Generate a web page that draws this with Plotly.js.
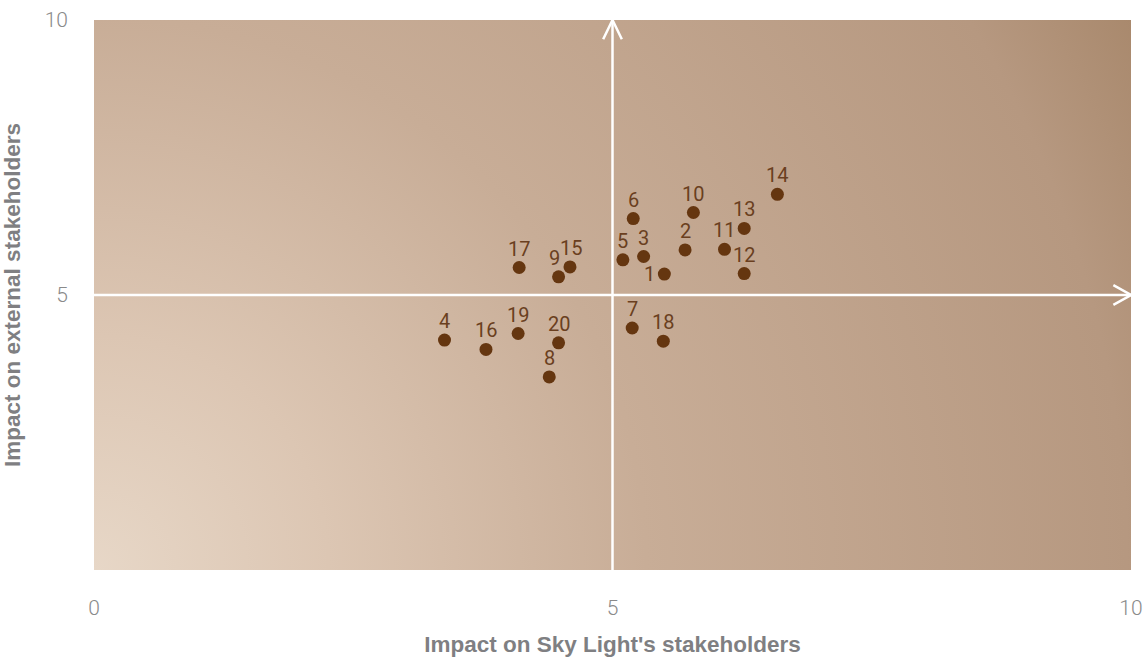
<!DOCTYPE html>
<html>
<head>
<meta charset="utf-8">
<script src="https://cdn.plot.ly/plotly-3.0.1.min.js"></script>
<style>
html,body{margin:0;padding:0;background:#fff;}
#chart{width:1147px;height:657px;}
</style>
</head>
<body>
<div id="chart"></div>
<script>
// Data
const labels = ["1","2","3","4","5","6","7","8","9","10","11","12","13","14","15","16","17","18","19","20"];
const xValues = [5.50,5.70,5.30,3.38,5.10,5.20,5.19,4.39,4.48,5.78,6.08,6.27,6.27,6.59,4.59,3.78,4.10,5.49,4.09,4.48];
const yValues = [5.38,5.82,5.70,4.18,5.64,6.39,4.40,3.51,5.33,6.50,5.83,5.39,6.21,6.83,5.51,4.01,5.50,4.16,4.30,4.13];
const xTicks = [0,5,10];
const yTicks = [5,10];
const xTitle = "Impact on Sky Light's stakeholders";
const yTitle = "Impact on external stakeholders";

// Label pixel offsets (style only): default above the marker
const labelShiftX = {"1": -15, "9": -4, "15": 1, "11": -1};
const labelShiftY = {"1": 0};

// Background gradient (decorative)
const bgSvg = '<svg xmlns="http://www.w3.org/2000/svg" width="1037" height="550" viewBox="0 0 1037 550">' +
  '<defs><radialGradient id="g" gradientUnits="userSpaceOnUse" cx="0" cy="550" r="1174">' +
  '<stop offset="0" stop-color="#e7d7c7"/>' +
  '<stop offset="0.2" stop-color="#dcc6b3"/>' +
  '<stop offset="0.47" stop-color="#c8ad97"/>' +
  '<stop offset="0.88" stop-color="#b69880"/>' +
  '<stop offset="1" stop-color="#a9896d"/>' +
  '</radialGradient></defs><rect width="1037" height="550" fill="url(#g)"/></svg>';
const bgUri = 'data:image/svg+xml;charset=utf-8,' + encodeURIComponent(bgSvg);

const trace = {
  type: 'scatter',
  mode: 'markers',
  x: xValues,
  y: yValues,
  text: labels,
  marker: {size: 13, color: '#653610', line: {width: 0}},
  hoverinfo: 'none',
  cliponaxis: false
};

const labelFont = {family: 'Roboto, "Liberation Sans", sans-serif', size: 20, color: '#6a3f20'};
const labelAnnotations = labels.map((t, i) => ({
  x: xValues[i], y: yValues[i], xref: 'x', yref: 'y',
  text: t, showarrow: false, font: labelFont,
  xanchor: 'center', yanchor: 'middle',
  xshift: (t in labelShiftX) ? labelShiftX[t] : 0,
  yshift: (t in labelShiftY) ? labelShiftY[t] : 19
}));

const white = '#ffffff';
const shapes = [
  {type:'line', xref:'x', yref:'y', x0:0, y0:5, x1:10, y1:5, line:{color:white, width:2.5}},
  {type:'line', xref:'x', yref:'y', x0:5, y0:0, x1:5, y1:10, line:{color:white, width:2.5}},
  // right chevron
  {type:'path', xref:'x', yref:'y', path:'M 9.83,5.18 L 10,5 L 9.83,4.82', line:{color:white, width:2.5}},
  // top chevron
  {type:'path', xref:'x', yref:'y', path:'M 4.91,9.65 L 5,10 L 5.09,9.65', line:{color:white, width:2.5}}
];

const tickFont = {family: 'Roboto, "Liberation Sans", sans-serif', size: 21, color: '#8a8a8a', weight: 300};
const titleFont = {family: '"Liberation Sans", Arial, sans-serif', size: 22.5, color: '#7f7f82', weight: 'bold'};

const layout = {
  width: 1147,
  height: 657,
  margin: {l: 94, r: 16, t: 20, b: 87, pad: 0},
  paper_bgcolor: '#ffffff',
  plot_bgcolor: 'rgba(0,0,0,0)',
  showlegend: false,
  images: [{source: bgUri, xref:'paper', yref:'paper', x:0, y:1, sizex:1, sizey:1, sizing:'stretch', xanchor:'left', yanchor:'top', layer:'below'}],
  shapes: shapes,
  annotations: labelAnnotations,
  xaxis: {
    range: [0,10], tickvals: xTicks, ticktext: xTicks.map(String),
    showgrid: false, zeroline: false, showline: false, ticks: '',
    ticklabelstandoff: 23, tickfont: tickFont, fixedrange: true,
    title: {text: xTitle, font: titleFont, standoff: 18}
  },
  yaxis: {
    range: [0,10], tickvals: yTicks, ticktext: yTicks.map(String),
    showgrid: false, zeroline: false, showline: false, ticks: '',
    ticklabelstandoff: 25, tickfont: tickFont, fixedrange: true,
    title: {text: yTitle, font: titleFont, standoff: 22}
  }
};

Plotly.newPlot('chart', [trace], layout, {displayModeBar: false, staticPlot: true});
</script>
</body>
</html>
